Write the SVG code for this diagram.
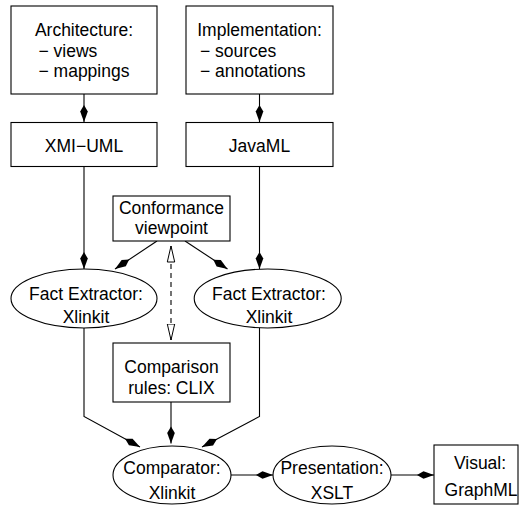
<svg xmlns="http://www.w3.org/2000/svg" width="519" height="506" viewBox="0 0 519 506">
<style>
.box{fill:#fff;stroke:#000;stroke-width:1.1}
.t{font-family:"Liberation Sans",Arial,sans-serif;font-size:17.5px;fill:#000}
.c{text-anchor:middle}
.ln{fill:none;stroke:#000;stroke-width:1.1;marker-end:url(#kite)}
.dash{fill:none;stroke:#000;stroke-width:1.1;stroke-dasharray:5,4;marker-start:url(#tri);marker-end:url(#tri)}
</style>
<defs>
<marker id="kite" markerUnits="userSpaceOnUse" markerWidth="20" markerHeight="10" refX="18" refY="5" orient="auto">
<path d="M18,5 L7.5,1.2 L1,5 L7.5,8.8 Z" fill="#000"/>
</marker>
<marker id="tri" markerUnits="userSpaceOnUse" markerWidth="18" markerHeight="10" refX="16.5" refY="5" orient="auto-start-reverse">
<path d="M16.5,5 L0.5,1.3 L0.5,8.7 Z" fill="#fff" stroke="#000" stroke-width="1"/>
</marker>
</defs>
<g id="connectors">
<line class="ln" x1="84" y1="94" x2="84" y2="122"/>
<line class="ln" x1="259.5" y1="94" x2="259.5" y2="122"/>
<line class="ln" x1="84" y1="167" x2="84" y2="269"/>
<line class="ln" x1="259.5" y1="167" x2="259.5" y2="269"/>
<line class="ln" x1="157" y1="241" x2="115" y2="269"/>
<line class="ln" x1="185" y1="241" x2="227.5" y2="269"/>
<line class="dash" x1="171" y1="246" x2="171" y2="340"/>
<polyline class="ln" points="84,328 84,416.5 140,447"/>
<polyline class="ln" points="259.5,328 259.5,416.5 202,447"/>
<line class="ln" x1="171" y1="402" x2="171" y2="443.5"/>
<line class="ln" x1="231" y1="475" x2="273" y2="475"/>
<line class="ln" x1="391" y1="475" x2="434" y2="475"/>
</g>
<g id="architecture">
<rect class="box" x="11" y="6" width="146" height="88"/>
<text class="t c" x="84" y="36">Architecture:</text>
<text class="t" x="38.5" y="57">− views</text>
<text class="t" x="38.5" y="77">− mappings</text>
</g>
<g id="implementation">
<rect class="box" x="186" y="6" width="147" height="88"/>
<text class="t c" x="259.5" y="36">Implementation:</text>
<text class="t" x="200" y="57">− sources</text>
<text class="t" x="200" y="77">− annotations</text>
</g>
<g id="xmi-uml">
<rect class="box" x="11" y="122.5" width="146" height="44"/>
<text class="t c" x="84" y="151.5">XMI−UML</text>
</g>
<g id="javaml">
<rect class="box" x="186" y="122.5" width="147" height="44"/>
<text class="t c" x="259.5" y="151.5">JavaML</text>
</g>
<g id="conformance">
<rect class="box" x="113" y="196" width="117" height="45"/>
<text class="t c" x="171.5" y="213.5">Conformance</text>
<text class="t c" x="171.5" y="234">viewpoint</text>
</g>
<g id="fact-extractor-left">
<ellipse class="box" cx="84" cy="298.5" rx="73" ry="29.5"/>
<text class="t c" x="86" y="300">Fact Extractor:</text>
<text class="t c" x="86" y="322.5">Xlinkit</text>
</g>
<g id="fact-extractor-right">
<ellipse class="box" cx="267.7" cy="298.5" rx="73.5" ry="29.5"/>
<text class="t c" x="269" y="300">Fact Extractor:</text>
<text class="t c" x="269" y="322.5">Xlinkit</text>
</g>
<g id="comparison-rules">
<rect class="box" x="113" y="343" width="117" height="59"/>
<text class="t c" x="171.5" y="373">Comparison</text>
<text class="t c" x="171.5" y="394">rules: CLIX</text>
</g>
<g id="comparator">
<ellipse class="box" cx="172" cy="475" rx="59" ry="29"/>
<text class="t c" x="172" y="473.5">Comparator:</text>
<text class="t c" x="172" y="499">Xlinkit</text>
</g>
<g id="presentation">
<ellipse class="box" cx="332" cy="475" rx="59" ry="29"/>
<text class="t c" x="332" y="473.5">Presentation:</text>
<text class="t c" x="332" y="499">XSLT</text>
</g>
<g id="visual">
<rect class="box" x="434" y="445" width="84" height="59"/>
<text class="t c" x="480" y="469">Visual:</text>
<text class="t c" x="481" y="496">GraphML</text>
</g>
</svg>
